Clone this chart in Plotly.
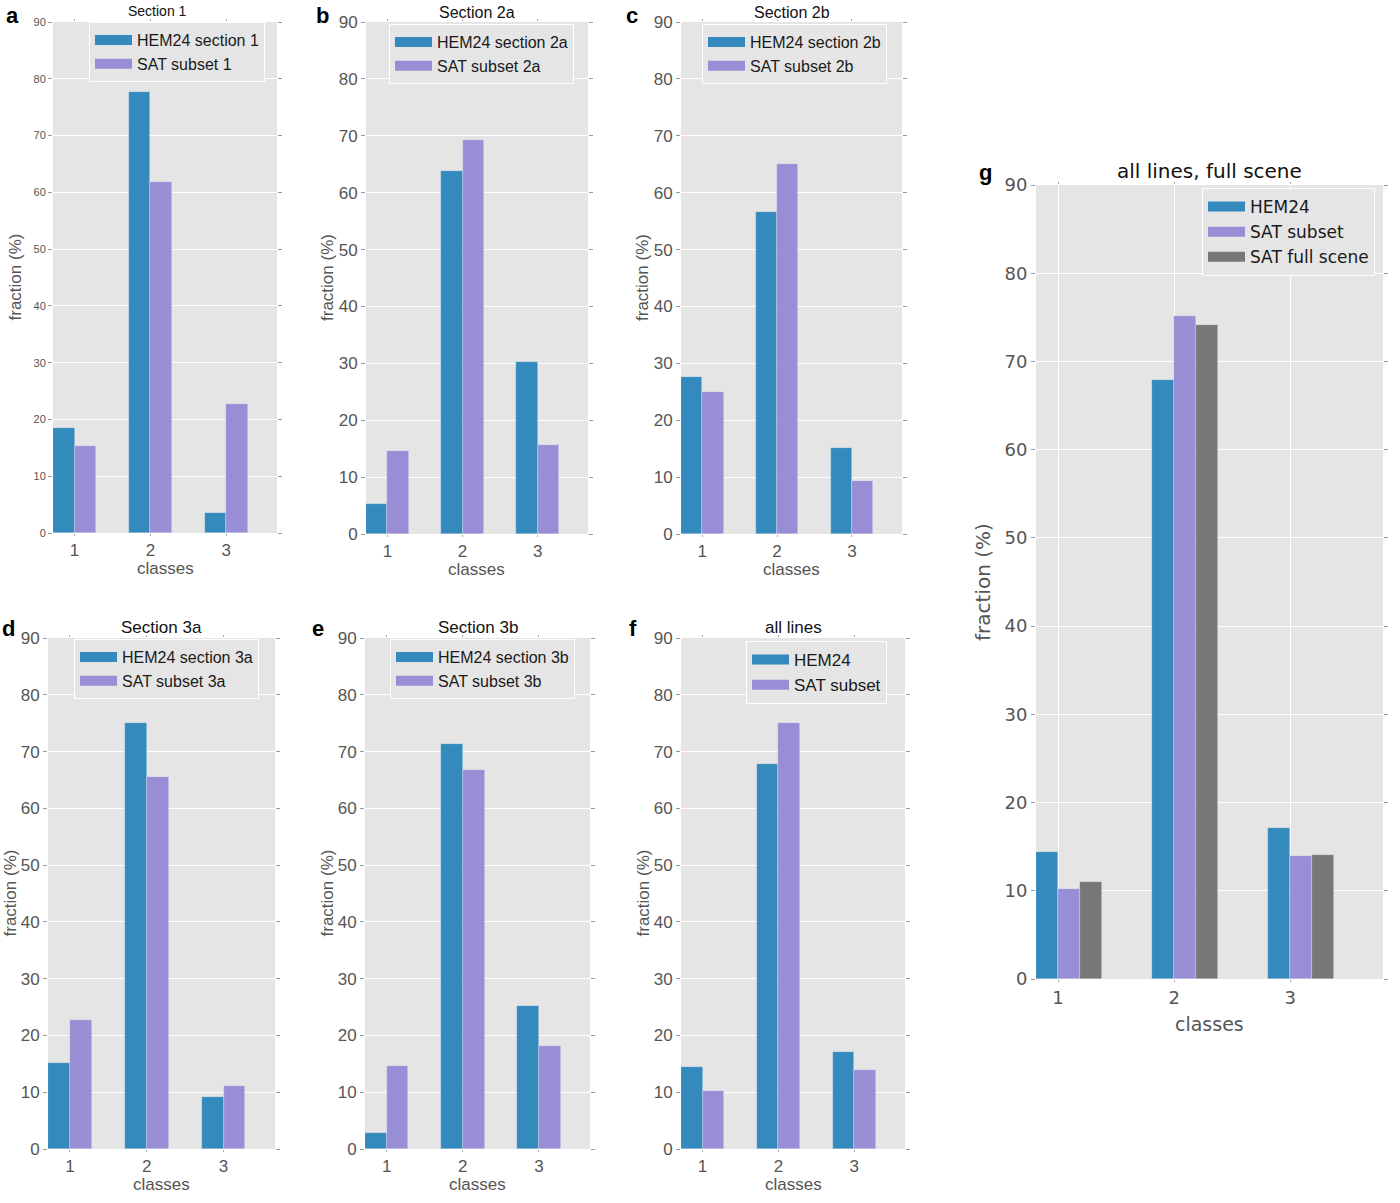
import plotly.graph_objects as go

# ---------------- data ----------------
classes = [1, 2, 3]

hem_1 = [18.5, 77.6, 3.6]
sat_1 = [15.3, 61.9, 22.7]

hem_2a = [5.3, 63.8, 30.2]
sat_2a = [14.6, 69.2, 15.6]

hem_2b = [27.6, 56.6, 15.1]
sat_2b = [24.9, 65.1, 9.4]

hem_3a = [15.2, 75.1, 9.1]
sat_3a = [22.8, 65.5, 11.1]

hem_3b = [2.9, 71.3, 25.1]
sat_3b = [14.7, 66.7, 18.1]

hem_all = [14.4, 67.8, 17.0]
sat_all = [10.2, 75.1, 14.0]

hem_g = [14.4, 67.9, 17.1]
sat_g = [10.2, 75.1, 13.9]
full_g = [11.0, 74.1, 14.1]

y_ticks = [0, 10, 20, 30, 40, 50, 60, 70, 80, 90]

BLUE = "#348ABD"
PURPLE = "#988ED5"
GRAY = "#777777"

W, H = 1400, 1203


def px(p):
    return p / W


def py(p):
    return 1 - p / H


panels = [
    dict(letter="a", title="Section 1", series=[("HEM24 section 1", hem_1, BLUE), ("SAT subset 1", sat_1, PURPLE)],
         box=(53, 277, 22, 533), leg=(89, 22), letterpos=(12, 15), titlex=157, titley=11, ytf=11, tf=14, lf=16),
    dict(letter="b", title="Section 2a", series=[("HEM24 section 2a", hem_2a, BLUE), ("SAT subset 2a", sat_2a, PURPLE)],
         box=(366, 588, 22, 534), leg=(389, 24), letterpos=(322, 15), titlex=None, titley=13, ytf=17, tf=16, lf=16),
    dict(letter="c", title="Section 2b", series=[("HEM24 section 2b", hem_2b, BLUE), ("SAT subset 2b", sat_2b, PURPLE)],
         box=(681, 902, 22, 534), leg=(702, 24), letterpos=(632, 15), titlex=None, titley=13, ytf=17, tf=16, lf=16),
    dict(letter="d", title="Section 3a", series=[("HEM24 section 3a", hem_3a, BLUE), ("SAT subset 3a", sat_3a, PURPLE)],
         box=(48, 275, 638, 1149), leg=(74, 639), letterpos=(8, 628), titlex=None, titley=627, ytf=17, tf=17, lf=16),
    dict(letter="e", title="Section 3b", series=[("HEM24 section 3b", hem_3b, BLUE), ("SAT subset 3b", sat_3b, PURPLE)],
         box=(365, 590, 638, 1149), leg=(390, 639), letterpos=(318, 628), titlex=None, titley=627, ytf=17, tf=17, lf=16),
    dict(letter="f", title="all lines", series=[("HEM24", hem_all, BLUE), ("SAT subset", sat_all, PURPLE)],
         box=(681, 905, 638, 1149), leg=(746, 641), letterpos=(633, 628), titlex=None, titley=627, ytf=17, tf=17, lf=17),
    dict(letter="g", title="all lines, full scene",
         series=[("HEM24", hem_g, BLUE), ("SAT subset", sat_g, PURPLE), ("SAT full scene", full_g, GRAY)],
         box=(1036, 1383, 185, 979), leg=(1202, 188), letterpos=(985, 173), titlex=None, titley=171, ytf=18, tf=20, lf=17),
]

fig = go.Figure()
annotations = []
layout = dict(
    width=W, height=H, margin=dict(l=0, r=0, t=0, b=0, pad=0, autoexpand=False),
    paper_bgcolor="white", plot_bgcolor="#E5E5E5",
    barmode="overlay", bargap=0,
)

for i, p in enumerate(panels, start=1):
    is_g = p["letter"] == "g"
    fam = "DejaVu Sans" if is_g else "Liberation Sans"
    w = 0.19 if is_g else 0.285
    xr = [0.81, 3.8] if is_g else [0.715, 3.67]
    xa = "x" if i == 1 else f"x{i}"
    ya = "y" if i == 1 else f"y{i}"
    lg = "legend" if i == 1 else f"legend{i}"
    x0, x1, y0, y1 = p["box"]

    for k, (name, vals, col) in enumerate(p["series"]):
        fig.add_trace(go.Bar(
            x=classes, y=vals, width=w, offset=(k - 1) * w,
            marker=dict(color=col, line=dict(width=0.6, color="rgba(255,255,255,0.45)")),
            xaxis=xa, yaxis=ya, showlegend=False, name=name, hoverinfo="x+y+name",
        ))
        fig.add_trace(go.Scatter(
            x=[None], y=[None], mode="lines", line=dict(color=col, width=11),
            name=name, xaxis=xa, yaxis=ya, legend=lg, showlegend=True,
        ))

    tickcol = "#555555"
    layout["xaxis" if i == 1 else f"xaxis{i}"] = dict(
        domain=[px(x0), px(x1)], anchor=ya, range=xr, tickvals=classes,
        ticktext=[str(c) for c in classes],
        showgrid=is_g, gridcolor="white", gridwidth=1, zeroline=False,
        ticks="outside", ticklen=2, tickcolor="#aaaaaa", mirror="ticks", showline=False,
        tickfont=dict(family=fam, size=18 if is_g else 17, color=tickcol),
        fixedrange=True, automargin=False,
    )
    layout["yaxis" if i == 1 else f"yaxis{i}"] = dict(
        domain=[py(y1), py(y0)], anchor=xa, range=[0, 90], tickvals=y_ticks,
        showgrid=True, gridcolor="white", gridwidth=1, zeroline=False,
        ticks="outside", ticklen=4, tickcolor="#999999", mirror="ticks", showline=False,
        tickfont=dict(family=fam, size=p["ytf"], color=tickcol),
        fixedrange=True, automargin=False,
    )
    layout[lg] = dict(
        x=px(p["leg"][0]), y=py(p["leg"][1]), xanchor="left", yanchor="top",
        xref="paper", yref="paper",
        bgcolor="#E5E5E5", bordercolor="white", borderwidth=1,
        font=dict(family=fam, size=p["lf"], color="#1a1a1a"),
        itemwidth=37, tracegroupgap=0,
    )

    cx = px((x0 + x1) / 2)
    tx = px(p["titlex"]) if p["titlex"] else cx
    annotations.append(dict(
        text=p["title"], x=tx, y=py(p["titley"]), xref="paper", yref="paper",
        xanchor="center", yanchor="middle", showarrow=False, borderpad=0,
        font=dict(family=fam, size=p["tf"], color="#111111"),
    ))
    annotations.append(dict(
        text="classes", x=cx, y=py(y1 + (45 if is_g else 35)), xref="paper", yref="paper",
        xanchor="center", yanchor="middle", showarrow=False,
        font=dict(family=fam, size=19 if is_g else 17, color=tickcol),
    ))
    annotations.append(dict(
        text="fraction (%)", x=px(x0 - (53 if is_g else 38)), y=py((y0 + y1) / 2),
        xref="paper", yref="paper", xanchor="center", yanchor="middle",
        textangle=-90, showarrow=False,
        font=dict(family=fam, size=20 if is_g else 17, color=tickcol),
    ))
    annotations.append(dict(
        text=f"<b>{p['letter']}</b>", x=px(p["letterpos"][0]), y=py(p["letterpos"][1]),
        xref="paper", yref="paper", xanchor="center", yanchor="middle", showarrow=False,
        font=dict(family="Liberation Sans", size=22, color="black"),
    ))

layout["annotations"] = annotations
fig.update_layout(**layout)
fig.write_html(
    "out.html",
    config={"displayModeBar": False},
    post_script="document.body.style.margin='0';document.body.style.overflow='hidden';",
)
